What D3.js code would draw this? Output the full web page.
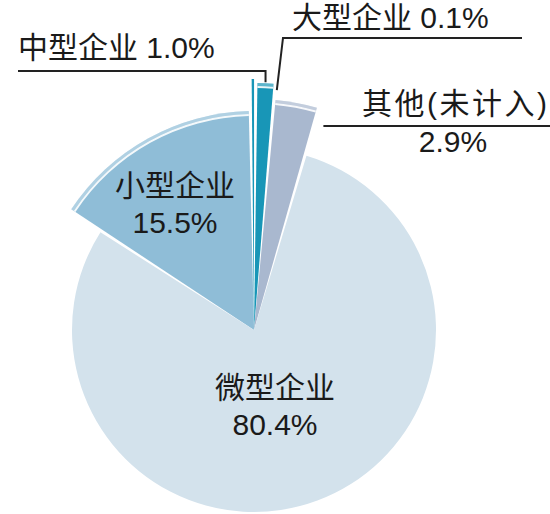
<!DOCTYPE html>
<html>
<head>
<meta charset="utf-8">
<script src="https://d3js.org/d3.v7.min.js"></script>
<style>
body { margin: 0; background: #fff; }
svg { display: block; }
text { font-family: "Liberation Sans", "Noto Sans CJK SC", sans-serif; font-size: 30px; fill: #1a1a1a; }
.leader { fill: none; stroke: #222; stroke-width: 2px; }
</style>
</head>
<body>
<div id="chart"></div>
<script>

// data, in drawing order (clockwise from the upper left)
var names = ["小型企业", "大型企业", "中型企业", "其他(未计入)", "微型企业"];
var values = [15.5, 0.1, 1.0, 2.9, 80.4];
var valueLabels = ["15.5%", "0.1%", "1.0%", "2.9%", "80.4%"];
var colors = ["#8fbdd7", "#1896b7", "#1896b7", "#a9b8cf", "#d3e2ec"];

var width = 550;
var height = 514;
var cx = 254, cy = 330;

// slices that are pulled out are drawn larger
var outerR = { "小型企业": 219, "大型企业": 251, "中型企业": 247, "其他(未计入)": 231, "微型企业": 182 };
var raised = { "小型企业": true, "中型企业": true, "其他(未计入)": true };

var deg = Math.PI / 180;

var svg = d3.select("#chart").append("svg")
  .attr("width", width).attr("height", height);

var rows = names.map(function (n, i) {
  return { name: n, value: values[i], label: valueLabels[i], color: colors[i] };
});

var pie = d3.pie()
  .sort(null)
  .value(function (d) { return d.value; })
  .startAngle(-57 * deg)
  .endAngle(-57 * deg + 2 * Math.PI)
  .padAngle(0.017);

var arcs = pie(rows);

var arc = d3.arc()
  .innerRadius(0)
  .outerRadius(function (d) { return outerR[d.data.name]; })
  .padRadius(200);

var shine = d3.arc()
  .innerRadius(function (d) { return outerR[d.data.name] - 5; })
  .outerRadius(function (d) { return outerR[d.data.name] - 3; })
  .padRadius(200);

var rim = d3.arc()
  .innerRadius(function (d) { return outerR[d.data.name] - 3; })
  .outerRadius(function (d) { return outerR[d.data.name]; })
  .padRadius(200);

var g = svg.append("g").attr("transform", "translate(" + cx + "," + cy + ")");

g.selectAll("path.slice").data(arcs).enter().append("path")
  .attr("class", "slice")
  .attr("d", arc)
  .style("fill", function (d) { return d.data.color; });

var up = arcs.filter(function (d) { return raised[d.data.name]; });

g.selectAll("path.rim").data(up).enter().append("path")
  .attr("class", "rim")
  .attr("d", rim)
  .style("fill", "#fff").style("opacity", 0.3);

g.selectAll("path.shine").data(up).enter().append("path")
  .attr("class", "shine")
  .attr("d", shine)
  .style("fill", "#fff").style("opacity", 0.9);

// point on the pie at a given angle and radius, in page coordinates
function pt(a, r) {
  return [cx + r * Math.sin(a), cy - r * Math.cos(a)];
}

var byName = {};
arcs.forEach(function (d) { byName[d.data.name] = d; });

// labels inside slices
var inner = [
  { name: "小型企业", x: 175, y: 196 },
  { name: "微型企业", x: 275, y: 398 }
];
inner.forEach(function (l) {
  var d = byName[l.name];
  var t = svg.append("text").attr("text-anchor", "middle");
  t.append("tspan").attr("x", l.x).attr("y", l.y).text(d.data.name);
  t.append("tspan").attr("x", l.x).attr("y", l.y + 37).text(d.data.label);
});

// 中型企业 - leader goes left then down to the bar top
var mid = byName["中型企业"];
var mA = (mid.startAngle + mid.endAngle) / 2;
var mEnd = pt(mA, outerR["中型企业"] + 1);
svg.append("path").attr("class", "leader")
  .attr("d", d3.line()([[18, 71], [mEnd[0], 71], mEnd]));
svg.append("text").attr("x", 18).attr("y", 58)
  .text(mid.data.name + " " + mid.data.label);

// 大型企业 - leader comes down from the right
var big = byName["大型企业"];
var bEnd = pt(mid.endAngle + 0.5 * deg, 241);
svg.append("path").attr("class", "leader")
  .attr("d", d3.line()([[522, 38], [283, 38], bEnd]));
svg.append("text").attr("x", 292).attr("y", 28)
  .text(big.data.name + " " + big.data.label);

// 其他 - label split over a rule
var oth = byName["其他(未计入)"];
var oStart = pt(oth.endAngle, outerR["其他(未计入)"] - 4);
svg.append("path").attr("class", "leader")
  .attr("d", d3.line()([[oStart[0] + 6, 126], [550, 126]]));
svg.append("text").attr("x", 362).attr("y", 114)
  .attr("textLength", 185).attr("lengthAdjust", "spacing")
  .text(oth.data.name);
svg.append("text").attr("x", 453).attr("y", 152).attr("text-anchor", "middle")
  .text(oth.data.label);

</script>
</body>
</html>
